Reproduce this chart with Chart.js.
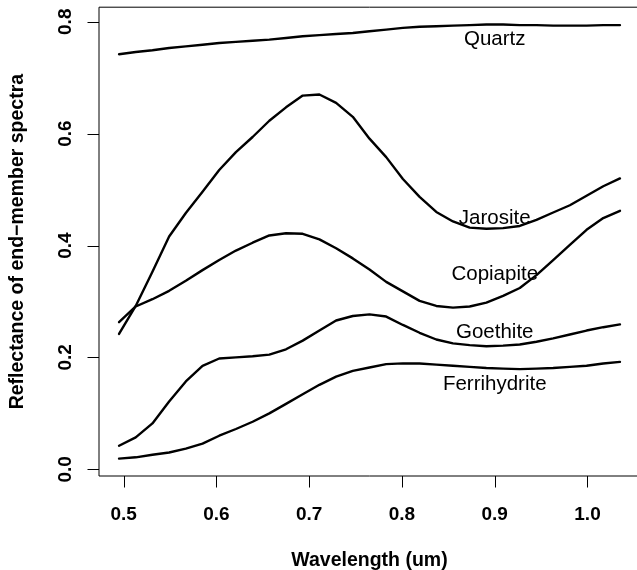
<!DOCTYPE html>
<html>
<head>
<meta charset="utf-8">
<script src="https://cdn.jsdelivr.net/npm/chart.js@4.4.1/dist/chart.umd.min.js"></script>
<style>
  html, body { margin: 0; padding: 0; background: #fff; overflow: hidden; }
  #wrap { width: 660px; height: 570px; }
</style>
</head>
<body>
<div id="wrap"><canvas id="spectraChart" width="660" height="570"></canvas></div>
<script>
// wavelengths (um)
const wavelengths = [0.495, 0.513, 0.531, 0.549, 0.567, 0.585, 0.603, 0.621, 0.639, 0.657,
    0.675, 0.693, 0.711, 0.729, 0.747, 0.765, 0.783, 0.801, 0.819, 0.837,
    0.855, 0.873, 0.891, 0.909, 0.927, 0.945, 0.963, 0.981, 0.999, 1.017, 1.035];

const quartz = [0.742, 0.746, 0.749, 0.753, 0.756, 0.759, 0.762, 0.764, 0.766, 0.768,
    0.771, 0.774, 0.776, 0.778, 0.780, 0.783, 0.786, 0.789, 0.791, 0.792,
    0.793, 0.794, 0.795, 0.795, 0.794, 0.794, 0.793, 0.793, 0.793, 0.794, 0.794];

const jarosite = [0.242, 0.292, 0.353, 0.416, 0.458, 0.496, 0.535, 0.567, 0.594, 0.623,
    0.647, 0.668, 0.670, 0.655, 0.630, 0.591, 0.558, 0.519, 0.487, 0.460,
    0.443, 0.432, 0.430, 0.431, 0.435, 0.446, 0.459, 0.472, 0.489, 0.506, 0.520];

const copiapite = [0.263, 0.291, 0.304, 0.319, 0.337, 0.356, 0.374, 0.391, 0.405, 0.418,
    0.422, 0.421, 0.411, 0.395, 0.377, 0.357, 0.335, 0.318, 0.301, 0.292,
    0.289, 0.291, 0.298, 0.310, 0.324, 0.347, 0.374, 0.401, 0.428, 0.449, 0.462];

const goethite = [0.042, 0.057, 0.082, 0.121, 0.157, 0.185, 0.198, 0.200, 0.202, 0.205,
    0.2145, 0.230, 0.248, 0.266, 0.274, 0.277, 0.273, 0.258, 0.244, 0.232,
    0.225, 0.222, 0.220, 0.221, 0.223, 0.228, 0.234, 0.241, 0.248, 0.254, 0.259];

const ferrihydrite = [0.019, 0.0214, 0.026, 0.030, 0.037, 0.046, 0.060, 0.072, 0.085, 0.100,
    0.117, 0.134, 0.151, 0.1655, 0.176, 0.182, 0.188, 0.1894, 0.189, 0.187,
    0.185, 0.183, 0.181, 0.180, 0.179, 0.180, 0.181, 0.183, 0.185, 0.189, 0.192];

// curve names and where they are written (data units)
const labelNames = ['Quartz', 'Jarosite', 'Copiapite', 'Goethite', 'Ferrihydrite'];
const labelX = [0.9, 0.9, 0.9, 0.9, 0.9];
const labelY = [0.771, 0.451, 0.352, 0.247, 0.154];

const xTicks = [0.5, 0.6, 0.7, 0.8, 0.9, 1.0];
const xTickLabels = ['0.5', '0.6', '0.7', '0.8', '0.9', '1.0'];
const yTicks = [0.0, 0.2, 0.4, 0.6, 0.8];
const yTickLabels = ['0.0', '0.2', '0.4', '0.6', '0.8'];

const xTitle = 'Wavelength (um)';
const yTitle = 'Reflectance of end\u2212member spectra';

const FONT = '"Liberation Sans", Arial, Helvetica, sans-serif';

function series(values) {
    return values.map((v, i) => ({ x: wavelengths[i], y: v }));
}

const curves = [quartz, jarosite, copiapite, goethite, ferrihydrite];

// R-style box, outward ticks, rotated y labels and text labels
const rAxesPlugin = {
    id: 'rAxes',
    afterDraw(chart) {
        const ctx = chart.ctx;
        const area = chart.chartArea;
        const xs = chart.scales.x;
        const ys = chart.scales.y;
        ctx.save();
        ctx.strokeStyle = '#000';
        ctx.lineWidth = 1;

        // box (right side falls outside the picture)
        ctx.beginPath();
        ctx.moveTo(area.right, area.top);
        ctx.lineTo(area.left, area.top);
        ctx.lineTo(area.left, area.bottom);
        ctx.lineTo(area.right, area.bottom);
        ctx.stroke();

        // x ticks
        ctx.fillStyle = '#000';
        ctx.font = 'bold 19px ' + FONT;
        ctx.textAlign = 'center';
        ctx.textBaseline = 'alphabetic';
        xTicks.forEach((t, i) => {
            const px = Math.round(xs.getPixelForValue(t)) + 0.5;
            ctx.beginPath();
            ctx.moveTo(px, area.bottom);
            ctx.lineTo(px, area.bottom + 11.5);
            ctx.stroke();
            ctx.fillText(xTickLabels[i], xs.getPixelForValue(t), 519.5);
        });

        // y ticks
        yTicks.forEach((t, i) => {
            const py = Math.round(ys.getPixelForValue(t)) + 0.5;
            ctx.beginPath();
            ctx.moveTo(area.left, py);
            ctx.lineTo(area.left - 11.5, py);
            ctx.stroke();
            ctx.save();
            ctx.translate(70.5, ys.getPixelForValue(t));
            ctx.rotate(-Math.PI / 2);
            ctx.fillText(yTickLabels[i], 0, 0);
            ctx.restore();
        });

        // axis titles
        ctx.font = 'bold 19.5px ' + FONT;
        ctx.fillText(xTitle, (area.left + area.right) / 2, 565.5);
        ctx.save();
        ctx.translate(22.5, (area.top + area.bottom) / 2);
        ctx.rotate(-Math.PI / 2);
        ctx.fillText(yTitle, 0, 0);
        ctx.restore();

        // curve names
        const size = 20.5;
        ctx.font = size + 'px ' + FONT;
        labelNames.forEach((name, i) => {
            const px = xs.getPixelForValue(labelX[i]);
            const py = ys.getPixelForValue(labelY[i]);
            ctx.fillText(name, px, py + size * 0.716 / 2);
        });
        ctx.restore();
    }
};

new Chart(document.getElementById('spectraChart'), {
    type: 'line',
    data: {
        datasets: curves.map((vals, i) => ({
            label: labelNames[i],
            data: series(vals),
            borderColor: '#000',
            borderWidth: 2.4,
            borderJoinStyle: 'round',
            borderCapStyle: 'round',
            tension: 0,
            fill: false,
            pointRadius: 0
        }))
    },
    options: {
        responsive: false,
        animation: false,
        events: [],
        layout: { padding: { left: 99, top: 7.2, right: 20, bottom: 94 } },
        plugins: { legend: { display: false }, tooltip: { enabled: false } },
        scales: {
            x: { type: 'linear', min: 0.4734, max: 1.0566, display: false },
            y: { type: 'linear', min: -0.012, max: 0.826, display: false }
        }
    },
    plugins: [rAxesPlugin]
});
</script>
</body>
</html>
